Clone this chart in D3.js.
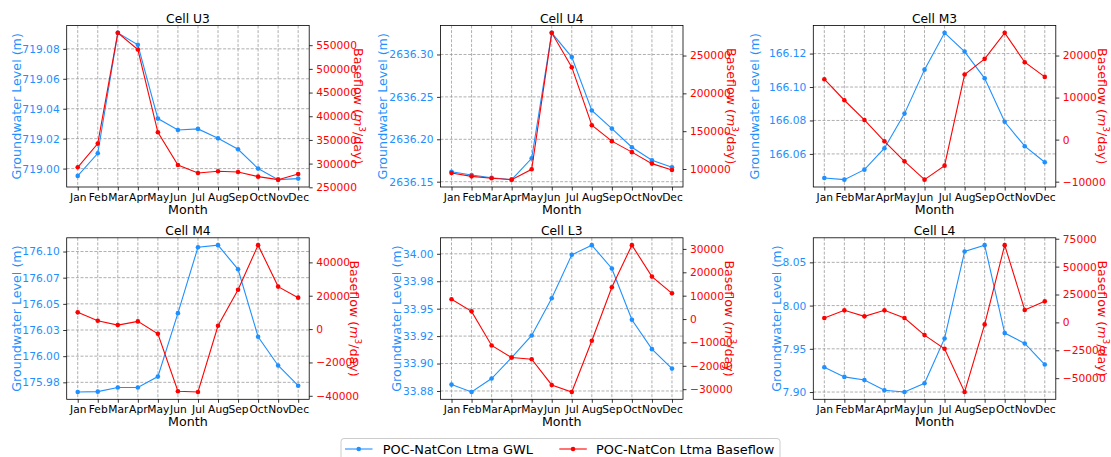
<!DOCTYPE html>
<html><head><meta charset="utf-8">
<script src="https://cdn.jsdelivr.net/npm/d3@7"></script>
<style>
body{margin:0;background:#fff}
svg{display:block;font-family:"DejaVu Sans",sans-serif}
</style>
</head><body>
<svg id="c" width="1111" height="457"></svg>
<script>
const months = ["Jan","Feb","Mar","Apr","May","Jun","Jul","Aug","Sep","Oct","Nov","Dec"];

const gwlU3 = [718.9951, 719.0102, 719.0907, 719.0827, 719.0334, 719.0258, 719.0265, 719.0202, 719.0129, 719.0000, 718.9926, 718.9933];
const bfU3  = [292200, 342200, 576100, 540800, 366100, 297000, 280200, 283800, 282300, 272500, 266100, 278100];
const gwlU4 = [2636.1618, 2636.1578, 2636.1547, 2636.1524, 2636.1775, 2636.3255, 2636.2969, 2636.2339, 2636.2126, 2636.1906, 2636.1753, 2636.1670];
const bfU4  = [94700, 90300, 87700, 85900, 99600, 280000, 234600, 157900, 136800, 122300, 107100, 98700];
const gwlM3 = [166.0456, 166.0446, 166.0506, 166.0634, 166.0841, 166.1104, 166.1324, 166.1212, 166.1052, 166.0792, 166.0646, 166.0550];
const bfM3  = [14365, 9365, 4683, -400, -5170, -9524, -6190, 15476, 19206, 25397, 18413, 14921];
const gwlM4 = [175.9658, 175.9661, 175.9700, 175.9700, 175.9805, 176.0411, 176.1041, 176.1061, 176.0830, 176.0186, 175.9911, 175.9718];
const bfM4  = [10025, 5012, 2406, 4611, -2807, -37293, -37695, 2005, 23609, 50326, 25464, 18847];
const gwlL3 = [33.8808, 33.8741, 33.8863, 33.9055, 33.9256, 33.9595, 33.9991, 34.0079, 33.9866, 33.9399, 33.9131, 33.8954];
const bfL3  = [8441, 3290, -11302, -16452, -17167, -28183, -31187, -9299, 13591, 31617, 18169, 11016];
const gwlL4 = [7.9287, 7.9175, 7.9140, 7.9020, 7.9001, 7.9102, 7.9620, 8.0625, 8.0699, 7.9682, 7.9562, 7.9318];
const bfL4  = [3900, 10800, 5400, 10800, 3900, -11391, -23681, -62350, -1799, 69245, 11091, 18885];

const gwlTicksU3 = [719.00, 719.02, 719.04, 719.06, 719.08];
const bfTicksU3  = [250000, 300000, 350000, 400000, 450000, 500000, 550000];
const gwlTicksU4 = [2636.15, 2636.20, 2636.25, 2636.30];
const bfTicksU4  = [100000, 150000, 200000, 250000];
const gwlTicksM3 = [166.06, 166.08, 166.10, 166.12];
const bfTicksM3  = [-10000, 0, 10000, 20000];
const gwlTicksM4 = [175.975, 176.000, 176.025, 176.050, 176.075, 176.100];
const gwlLabelsM4 = ["175.98", "176.00", "176.03", "176.05", "176.07", "176.10"];
const bfTicksM4  = [-40000, -20000, 0, 20000, 40000];
const gwlTicksL3 = [33.875, 33.900, 33.925, 33.950, 33.975, 34.000];
const gwlLabelsL3 = ["33.88", "33.90", "33.92", "33.95", "33.98", "34.00"];
const bfTicksL3  = [-30000, -20000, -10000, 0, 10000, 20000, 30000];
const gwlTicksL4 = [7.90, 7.95, 8.00, 8.05];
const bfTicksL4  = [-50000, -25000, 0, 25000, 50000, 75000];

const titles = ["Cell U3", "Cell U4", "Cell M3", "Cell M4", "Cell L3", "Cell L4"];
const seriesNames = ["POC-NatCon Ltma GWL", "POC-NatCon Ltma Baseflow"];

const BLUE = "#1E90FF", RED = "#FF0000";
const W = 242.5, H = 161.5;

const svg = d3.select("#c");

// fit font sizes to the text widths measured on the reference
function fit(str, target) {
  const t = svg.append("text").style("font-size", "100px").text(str);
  const w = t.node().getComputedTextLength();
  t.remove();
  return 100 * target / w;
}
const TICK = (fit("719.08", 37.3) + fit("2636.30", 44.3)) / 2;
const LAB = (fit("Groundwater Level (m)", 149) + fit("Month", 39)) / 2;
const TTL = fit("Cell U3", 43.7);
const LEG = (fit("POC-NatCon Ltma GWL", 150) + fit("POC-NatCon Ltma Baseflow", 179)) / 2;

const panels = [
  {t:0, gwl:gwlU3, bf:bfU3, gt:gwlTicksU3, gl:null, bt:bfTicksU3, x:66.7,  y:25.5, ll:20.8,  rl:353.7},
  {t:1, gwl:gwlU4, bf:bfU4, gt:gwlTicksU4, gl:null, bt:bfTicksU4, x:440.5, y:25.5, ll:386.9, rl:727.1},
  {t:2, gwl:gwlM3, bf:bfM3, gt:gwlTicksM3, gl:null, bt:bfTicksM3, x:813.3, y:25.5, ll:758.9, rl:1098.4},
  {t:3, gwl:gwlM4, bf:bfM4, gt:gwlTicksM4, gl:gwlLabelsM4, bt:bfTicksM4, x:66.7,  y:237.8, ll:20.6,  rl:350.4},
  {t:4, gwl:gwlL3, bf:bfL3, gt:gwlTicksL3, gl:gwlLabelsL3, bt:bfTicksL3, x:440.5, y:237.8, ll:401.3, rl:724.7},
  {t:5, gwl:gwlL4, bf:bfL4, gt:gwlTicksL4, gl:null, bt:bfTicksL4, x:813.3, y:237.8, ll:780.8, rl:1098.4}
];

const fmtBf = d => (d < 0 ? "\u2212" + Math.abs(d) : String(d));

function padDomain(arr) {
  const [a, b] = d3.extent(arr);
  const m = (b - a) * 0.05;
  return [a - m, b + m];
}

panels.forEach(p => {
  const g = svg.append("g").attr("transform", `translate(${p.x},${p.y})`);
  const x = d3.scaleLinear().domain([-0.55, 11.55]).range([0, W]);
  const yl = d3.scaleLinear().domain(padDomain(p.gwl)).range([H, 0]);
  const yr = d3.scaleLinear().domain(padDomain(p.bf)).range([H, 0]);

  // grid
  const grid = g.append("g").attr("stroke", "#9a9a9a").attr("stroke-width", 0.8)
    .attr("stroke-dasharray", "3,1.6").attr("fill", "none");
  months.forEach((m, i) => grid.append("line").attr("x1", x(i)).attr("x2", x(i)).attr("y1", 0).attr("y2", H));
  p.gt.forEach(v => grid.append("line").attr("x1", 0).attr("x2", W).attr("y1", yl(v)).attr("y2", yl(v)));

  // axes
  const ax = g.append("g").attr("transform", `translate(0,${H})`)
    .call(d3.axisBottom(x).tickValues(d3.range(12)).tickFormat(i => months[i]).tickSize(3.5).tickPadding(2.5));
  ax.selectAll("text").attr("fill", "#000").style("font-size", TICK + "px");

  const al = g.append("g")
    .call(d3.axisLeft(yl).tickValues(p.gt).tickFormat((d, i) => p.gl ? p.gl[i] : d3.format(".2f")(d)).tickSize(3.5).tickPadding(3.5));
  al.selectAll("text").attr("fill", BLUE).style("font-size", TICK + "px");

  const ar = g.append("g").attr("transform", `translate(${W},0)`)
    .call(d3.axisRight(yr).tickValues(p.bt).tickFormat(fmtBf).tickSize(3.5).tickPadding(3.5));
  ar.selectAll("text").attr("fill", RED).style("font-size", TICK + "px");

  [ax, al, ar].forEach(a => { a.select(".domain").remove(); a.selectAll("line").attr("stroke", "#000").attr("stroke-width", 0.8); a.attr("font-family", null); });

  g.append("rect").attr("width", W).attr("height", H).attr("fill", "none").attr("stroke", "#000").attr("stroke-width", 0.8);

  // series
  const lineL = d3.line().x((d, i) => x(i)).y(d => yl(d));
  const lineR = d3.line().x((d, i) => x(i)).y(d => yr(d));
  g.append("path").datum(p.gwl).attr("d", lineL).attr("fill", "none").attr("stroke", BLUE).attr("stroke-width", 1.1);
  g.selectAll(".pl").data(p.gwl).join("circle").attr("cx", (d, i) => x(i)).attr("cy", d => yl(d)).attr("r", 2.3).attr("fill", BLUE);
  g.append("path").datum(p.bf).attr("d", lineR).attr("fill", "none").attr("stroke", RED).attr("stroke-width", 1.1);
  g.selectAll(".pr").data(p.bf).join("circle").attr("cx", (d, i) => x(i)).attr("cy", d => yr(d)).attr("r", 2.3).attr("fill", RED);

  // title & labels
  g.append("text").attr("x", W / 2).attr("y", -3).attr("text-anchor", "middle").style("font-size", TTL + "px").text(titles[p.t]);
  g.append("text").attr("x", W / 2).attr("y", H + 26.5).attr("text-anchor", "middle").style("font-size", LAB + "px").text("Month");

  svg.append("text").attr("transform", `translate(${p.ll},${p.y + H / 2}) rotate(-90)`)
    .attr("text-anchor", "middle").attr("fill", BLUE).style("font-size", LAB + "px").text("Groundwater Level (m)");

  const rt = svg.append("text").attr("transform", `translate(${p.rl},${p.y + H / 2}) rotate(90)`)
    .attr("text-anchor", "middle").attr("fill", RED).style("font-size", LAB + "px");
  rt.append("tspan").text("Baseflow (");
  rt.append("tspan").attr("font-style", "italic").text("m");
  rt.append("tspan").attr("dy", -5).style("font-size", (LAB * 0.7) + "px").text("3");
  rt.append("tspan").attr("dy", 5).text("/day)");
});

// legend
const lg = svg.append("g");
lg.append("rect").attr("x", 341).attr("y", 438.5).attr("width", 439).attr("height", 32).attr("rx", 3)
  .attr("fill", "#fff").attr("stroke", "#cccccc").attr("stroke-width", 1);
const items = [{c: BLUE, x: 345, tx: 382.7}, {c: RED, x: 559.3, tx: 596}];
items.forEach((it, i) => {
  lg.append("line").attr("x1", it.x).attr("x2", it.x + 27.5).attr("y1", 449).attr("y2", 449).attr("stroke", it.c).attr("stroke-width", 1.1);
  lg.append("circle").attr("cx", it.x + 13.75).attr("cy", 449).attr("r", 2.3).attr("fill", it.c);
  lg.append("text").attr("x", it.tx).attr("y", 454.3).style("font-size", LEG + "px").text(seriesNames[i]);
});
</script>
</body></html>
